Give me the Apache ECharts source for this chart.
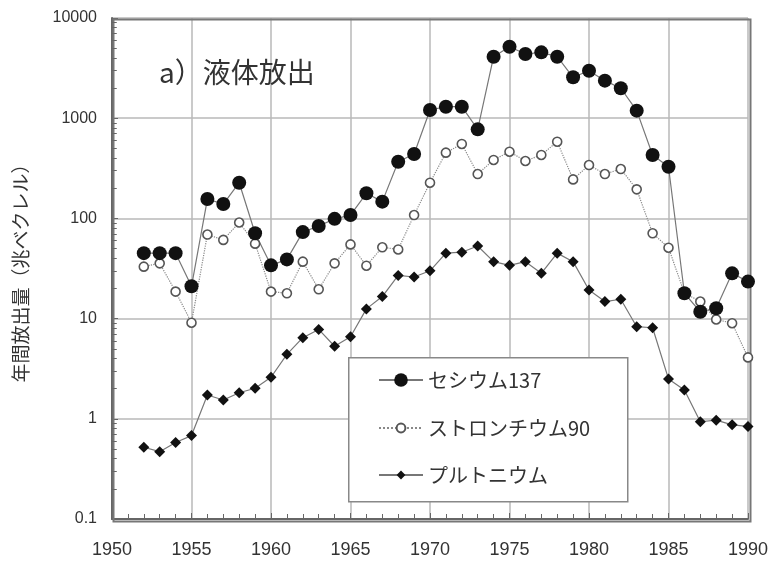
<!DOCTYPE html>
<html><head><meta charset="utf-8">
<script src="https://cdn.jsdelivr.net/npm/echarts@6/dist/echarts.min.js"></script>
<style>html,body{margin:0;padding:0;background:#fff}#c{width:775px;height:567px}</style>
</head><body><div id="c"></div>
<script>
const years = [1952,1953,1954,1955,1956,1957,1958,1959,1960,1961,1962,1963,1964,1965,1966,1967,1968,1969,1970,1971,1972,1973,1974,1975,1976,1977,1978,1979,1980,1981,1982,1983,1984,1985,1986,1987,1988,1989,1990];
const cesium137 = [45,45,45,21,156,139,227,71,34,39,73,84,99,108,178,147,368,440,1207,1303,1303,774,4110,5170,4370,4540,4110,2560,2980,2370,1990,1190,430,328,17.9,11.7,12.7,28.3,23.4];
const strontium90 = [33,35.6,18.6,9.1,69,61,91,56,18.6,17.9,37,19.6,35.6,55,33.7,51.5,49,108,227,453,553,277,383,463,374,430,583,245,341,277,311,195,71,51,18,14.8,9.8,9.0,4.1];
const plutonium = [0.52,0.47,0.58,0.68,1.73,1.54,1.82,2.02,2.6,4.4,6.45,7.8,5.3,6.6,12.5,16.6,27,26,30,45,46,53,37,34,37,28.3,45,37,19.3,14.8,15.6,8.3,8.1,2.5,1.94,0.935,0.97,0.87,0.84];
const xTickLabels = [1950,1955,1960,1965,1970,1975,1980,1985,1990];
const yTickLabels = [0.1,1,10,100,1000,10000];
const seriesNames = ['セシウム137','ストロンチウム90','プルトニウム'];
const titleText = 'a）液体放出';
const yAxisName = '年間放出量（兆ベクレル）';

const minorYTicks = [];
for (let k = 0; k < yTickLabels.length - 1; k++) {
  for (let m = 2; m <= 9; m++) minorYTicks.push(Number((yTickLabels[k] * m).toPrecision(6)));
}

const pair = arr => years.map((y, i) => [y, arr[i]]);
const jp = "'Noto Sans CJK JP', sans-serif";
const num = "'Liberation Sans', Arial, sans-serif";
const x0 = xTickLabels[0];
const tickStyle = { type: 'solid', color: '#666', width: 1 };
const minorTickLines = minorYTicks.map(v => [{ coord: [x0, v], lineStyle: tickStyle }, { coord: [x0 + 0.3, v] }]);

const chart = echarts.init(document.getElementById('c'));
chart.setOption({
  animation: false,
  backgroundColor: '#fff',
  title: {
    text: titleText, left: 154, top: 53,
    textStyle: { fontFamily: jp, fontSize: 28, fontWeight: 'normal', color: '#333' }
  },
  grid: { left: 112, right: 27, top: 18, bottom: 48 },
  xAxis: {
    type: 'value', min: 1950, max: 1990, interval: 5,
    axisLine: { show: true, lineStyle: { color: '#666', width: 2 } },
    axisTick: { show: true, inside: true, length: 6, lineStyle: { color: '#666' } },
    minorTick: { show: true, splitNumber: 5, length: 5, lineStyle: { color: '#666' } },
    splitLine: { show: true, lineStyle: { type: 'solid', color: '#b8b8b8', width: 1.5 } },
    axisLabel: { margin: 22, fontSize: 18, color: '#333', fontFamily: num, formatter: v => String(v) }
  },
  yAxis: {
    type: 'log', logBase: 10, min: 0.1, max: 10000,
    name: yAxisName, nameLocation: 'middle', nameGap: 82, nameRotate: 90,
    nameTextStyle: { fontFamily: jp, fontSize: 19, color: '#333' },
    axisLine: { show: true, lineStyle: { color: '#666', width: 2 } },
    axisTick: { show: true, inside: true, length: 6, lineStyle: { color: '#666' } },
    splitLine: { show: true, lineStyle: { type: 'solid', color: '#b8b8b8', width: 1.5 } },
    axisLabel: { margin: 15, fontSize: 16, color: '#333', fontFamily: num, formatter: v => String(Number(v.toPrecision(6))) }
  },
  legend: [
    { data: [seriesNames[0]], left: 378, top: 370, padding: 0, itemWidth: 44, itemHeight: 17,
      textStyle: { fontFamily: jp, fontSize: 20, color: '#333' } },
    { data: [seriesNames[1]], left: 378, top: 418, padding: 0, itemWidth: 44, itemHeight: 11,
      textStyle: { fontFamily: jp, fontSize: 20, color: '#333' } },
    { data: [seriesNames[2]], left: 378, top: 465, padding: 0, itemWidth: 44, itemHeight: 11,
      textStyle: { fontFamily: jp, fontSize: 20, color: '#333' } }
  ],
  graphic: [
    { type: 'rect', left: 111, top: 17, z: 3, silent: true,
      shape: { width: 637, height: 502 },
      style: { fill: 'none', stroke: '#777', lineWidth: 2 } },
    { type: 'rect', left: 348, top: 357, z: 3,
      shape: { width: 279, height: 144 },
      style: { fill: '#fff', stroke: '#888', lineWidth: 1.5 } }
  ],
  series: [
    {
      name: seriesNames[2], type: 'line', data: pair(plutonium),
      symbol: 'diamond', symbolSize: 11,
      itemStyle: { color: '#111' },
      lineStyle: { color: '#777', width: 1.2 },
      markLine: {
        silent: true, animation: false, symbol: ['none', 'none'],
        label: { show: false }, emphasis: { disabled: true },
        data: minorTickLines
      }
    },
    {
      name: seriesNames[1], type: 'line', data: pair(strontium90),
      symbol: 'circle', symbolSize: 9,
      itemStyle: { color: '#fff', borderColor: '#555', borderWidth: 1.6 },
      lineStyle: { color: '#888', width: 1.2, type: 'dotted' }
    },
    {
      name: seriesNames[0], type: 'line', data: pair(cesium137),
      symbol: 'circle', symbolSize: 14,
      itemStyle: { color: '#111' },
      lineStyle: { color: '#777', width: 1.2 }
    }
  ]
});
</script>
</body></html>
